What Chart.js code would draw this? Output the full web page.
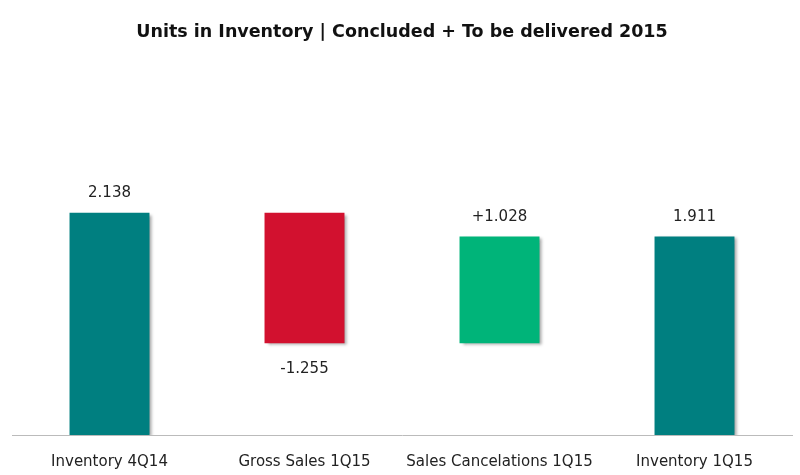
<!DOCTYPE html>
<html>
<head>
<meta charset="utf-8">
<script src="https://cdn.jsdelivr.net/npm/chart.js@4"></script>
<style>
  html, body { margin: 0; padding: 0; background: #fff; }
  #wrap { width: 800px; height: 475px; }
</style>
</head>
<body>
<div id="wrap"><canvas id="invChart"></canvas></div>
<script>
const categories = ['Inventory 4Q14', 'Gross Sales 1Q15', 'Sales Cancelations 1Q15', 'Inventory 1Q15'];
const startValues = [0, 883, 883, 0];
const endValues = [2138, 2138, 1911, 1911];
const valueLabels = ['2.138', '-1.255', '+1.028', '1.911'];
const barColors = ['#007f80', '#d2112f', '#00b479', '#007f80'];

const ctx = document.getElementById('invChart');

// label above the bar, except for the drop where it goes under
const valueLabelPlugin = {
    id: 'valueLabels',
    afterDatasetsDraw(chart) {
        const c = chart.ctx;
        const meta = chart.getDatasetMeta(0);
        c.save();
        c.font = '15px "DejaVu Sans"';
        c.fillStyle = '#222';
        c.textAlign = 'center';
        meta.data.forEach((bar, i) => {
            const top = Math.min(bar.y, bar.base);
            const bottom = Math.max(bar.y, bar.base);
            if (valueLabels[i].startsWith('-')) {
                c.textBaseline = 'top';
                c.fillText(valueLabels[i], bar.x, bottom + 18);
            } else {
                c.textBaseline = 'bottom';
                c.fillText(valueLabels[i], bar.x, top - 12);
            }
        });
        c.restore();
    }
};

// soft grey shadow to the right of each bar
const barShadowPlugin = {
    id: 'barShadow',
    beforeDatasetsDraw(chart) {
        const c = chart.ctx;
        c.save();
        c.shadowColor = 'rgba(0,0,0,0.35)';
        c.shadowBlur = 3;
        c.shadowOffsetX = 3;
        c.shadowOffsetY = 2;
    },
    afterDatasetsDraw(chart) {
        chart.ctx.restore();
    }
};

new Chart(ctx, {
    type: 'bar',
    data: {
        labels: categories,
        datasets: [{
            data: categories.map((_, i) => [startValues[i], endValues[i]]),
            backgroundColor: barColors,
            borderWidth: 0,
            categoryPercentage: 1,
            barPercentage: 0.41
        }]
    },
    options: {
        responsive: true,
        maintainAspectRatio: false,
        animation: false,
        layout: { padding: { left: 12, right: 8, bottom: -14 } },
        scales: {
            x: {
                grid: { display: false, drawTicks: false, tickLength: 0 },
                border: { display: true, color: '#bbb', width: 1 },
                ticks: {
                    color: '#222',
                    font: { family: 'DejaVu Sans', size: 15 },
                    padding: 18,
                    maxRotation: 0
                }
            },
            y: {
                display: false,
                min: 0,
                max: 3580
            }
        },
        plugins: {
            legend: { display: false },
            tooltip: { enabled: false },
            title: {
                display: true,
                text: 'Units in Inventory | Concluded + To be delivered 2015',
                color: '#111',
                font: { family: 'DejaVu Sans', size: 17.5, weight: 'bold' },
                padding: { top: 22, bottom: 20 }
            }
        }
    },
    plugins: [barShadowPlugin, valueLabelPlugin]
});
</script>
</body>
</html>
